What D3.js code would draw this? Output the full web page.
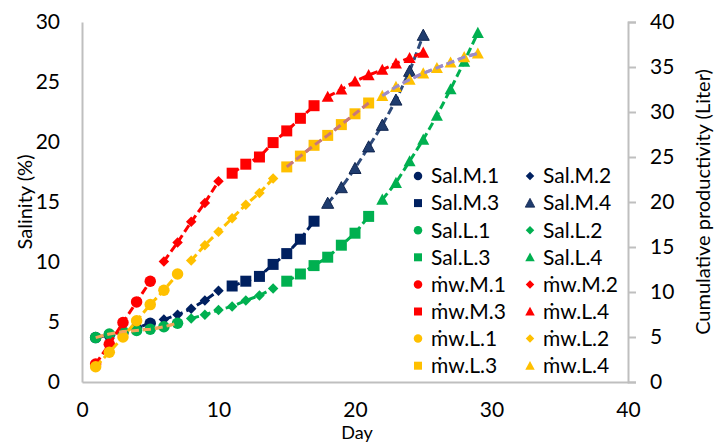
<!DOCTYPE html>
<html><head><meta charset="utf-8">
<script src="https://cdn.jsdelivr.net/npm/d3@7"></script>
<style>
body{margin:0;background:#fff;}
svg text{font-family:Lato,"Noto Sans",sans-serif;fill:#000;}
</style></head>
<body><svg id="c" width="714" height="443"></svg>
<script>
// ---- data ----
const daysM1 = [1,2,3,4,5];
const daysM2 = [6,7,8,9,10];
const daysM3 = [11,12,13,14,15,16,17];
const daysM4 = [18,19,20,21,22,23,24,25];
const daysL1 = [1,2,3,4,5,6,7];
const daysL2 = [8,9,10,11,12,13,14];
const daysL3 = [15,16,17,18,19,20,21];
const daysL4 = [22,23,24,25,26,27,28,29];

const salM1 = [3.7, 3.9, 4.1, 4.5, 4.9];
const salM2 = [5.2, 5.6, 6.1, 6.8, 7.6];
const salM3 = [8.0, 8.4, 8.8, 9.8, 10.7, 11.9, 13.4];
const salM4 = [14.9, 16.2, 17.8, 19.6, 21.4, 23.5, 25.9, 28.9];
const salL1 = [3.7, 4.0, 4.2, 4.3, 4.4, 4.6, 4.9];
const salL2 = [5.3, 5.6, 6.0, 6.3, 6.8, 7.2, 7.8];
const salL3 = [8.4, 9.0, 9.7, 10.4, 11.4, 12.4, 13.8];
const salL4 = [15.2, 16.6, 18.4, 20.2, 22.2, 24.4, 26.7, 29.1];

const mwM1 = [2.0, 4.2, 6.6, 8.9, 11.2];
const mwM2 = [13.4, 15.5, 17.8, 19.9, 22.3];
const mwM3 = [23.2, 24.2, 25.0, 26.6, 27.9, 29.3, 30.7];
const mwM4 = [31.7, 32.5, 33.4, 34.1, 34.7, 35.4, 36.0, 36.6];
const mwL1 = [1.7, 3.3, 5.0, 6.8, 8.6, 10.2, 12.0];
const mwL2 = [13.5, 15.2, 16.7, 18.2, 19.7, 21.0, 22.6];
const mwL3 = [23.9, 25.1, 26.3, 27.4, 28.6, 29.8, 31.0];
const mwL4 = [31.8, 32.8, 33.6, 34.3, 34.9, 35.5, 36.1, 36.5];

const xTicks = [0, 10, 20, 30, 40];
const yLeftTicks = [0, 5, 10, 15, 20, 25, 30];
const yRightTicks = [0, 5, 10, 15, 20, 25, 30, 35, 40];

const seriesNames = ["Sal.M.1","Sal.M.2","Sal.M.3","Sal.M.4","Sal.L.1","Sal.L.2","Sal.L.3","Sal.L.4",
  "ṁw.M.1","ṁw.M.2","ṁw.M.3","ṁw.L.4","ṁw.L.1","ṁw.L.2","ṁw.L.3","ṁw.L.4"];

// ---- styles ----
const NAVY="#002060", NAVY4="#1F3C6E", GREEN="#00B050", RED="#FF0000", YEL="#FFC000";
const series = [
  {name:seriesNames[0], days:daysM1, vals:salM1, axis:"L", shape:"circle", fill:NAVY, line:NAVY},
  {name:seriesNames[1], days:daysM2, vals:salM2, axis:"L", shape:"diamond", fill:NAVY, line:NAVY},
  {name:seriesNames[2], days:daysM3, vals:salM3, axis:"L", shape:"square", fill:NAVY, line:NAVY},
  {name:seriesNames[3], days:daysM4, vals:salM4, axis:"L", shape:"triangle", fill:NAVY4, line:"#2E4A7A", stroke:"#10254F"},
  {name:seriesNames[4], days:daysL1, vals:salL1, axis:"L", shape:"circle", fill:GREEN, line:"#F4A55A"},
  {name:seriesNames[5], days:daysL2, vals:salL2, axis:"L", shape:"diamond", fill:GREEN, line:GREEN},
  {name:seriesNames[6], days:daysL3, vals:salL3, axis:"L", shape:"square", fill:GREEN, line:GREEN},
  {name:seriesNames[7], days:daysL4, vals:salL4, axis:"L", shape:"triangle", fill:GREEN, line:GREEN},
  {name:seriesNames[8], days:daysM1, vals:mwM1, axis:"R", shape:"circle", fill:RED, line:RED},
  {name:seriesNames[9], days:daysM2, vals:mwM2, axis:"R", shape:"diamond", fill:RED, line:RED},
  {name:seriesNames[10], days:daysM3, vals:mwM3, axis:"R", shape:"square", fill:RED, line:RED},
  {name:seriesNames[11], days:daysM4, vals:mwM4, axis:"R", shape:"triangle", fill:RED, line:RED},
  {name:seriesNames[12], days:daysL1, vals:mwL1, axis:"R", shape:"circle", fill:YEL, line:YEL},
  {name:seriesNames[13], days:daysL2, vals:mwL2, axis:"R", shape:"diamond", fill:YEL, line:YEL},
  {name:seriesNames[14], days:daysL3, vals:mwL3, axis:"R", shape:"square", fill:YEL, line:"#C8787A"},
  {name:seriesNames[15], days:daysL4, vals:mwL4, axis:"R", shape:"triangle", fill:YEL, line:"#9C8CC8"}
];

// ---- layout ----
const svg = d3.select("#c");
const X0=82, X1=628, Ytop=22, Ybot=382;
const x = d3.scaleLinear().domain([0,40]).range([X0,X1]);
const yL = d3.scaleLinear().domain([0,30]).range([Ybot,Ytop]);
const yR = d3.scaleLinear().domain([0,40]).range([Ybot,Ytop]);
const AX="#BFBFBF";

// axes
const gx = svg.append("g").attr("transform",`translate(0,${Ybot})`)
  .call(d3.axisBottom(x).tickValues(xTicks).tickSize(0).tickPadding(20));
const gl = svg.append("g").attr("transform",`translate(${X0},0)`)
  .call(d3.axisLeft(yL).tickValues(yLeftTicks).tickSize(0).tickPadding(22));
const gr = svg.append("g").attr("transform",`translate(${X1},0)`)
  .call(d3.axisRight(yR).tickValues(yRightTicks).tickSize(8).tickPadding(14));
[gx,gl,gr].forEach(g=>{
  g.select(".domain").attr("stroke",AX).attr("stroke-width",2);
  g.selectAll(".tick line").attr("stroke",AX).attr("stroke-width",2);
  g.selectAll(".tick text").attr("font-size",21).attr("fill","#000")
    .style("font-family",'Lato,"Noto Sans",sans-serif');
});

// axis titles
svg.append("text").attr("x",357).attr("y",439).attr("text-anchor","middle").attr("font-size",18).text("Day");
svg.append("text").attr("transform","translate(32,202) rotate(-90)").attr("text-anchor","middle").attr("font-size",20).text("Salinity (%)");
svg.append("text").attr("transform","translate(710,202) rotate(-90)").attr("text-anchor","middle").attr("font-size",20).text("Cumulative productivity (Liter)");

// marker paths
function markerPath(shape, s){
  const h=s/2;
  if(shape==="circle") return `M${-h},0A${h},${h} 0 1,0 ${h},0A${h},${h} 0 1,0 ${-h},0Z`;
  if(shape==="square") return `M${-h},${-h}H${h}V${h}H${-h}Z`;
  if(shape==="diamond") return `M0,${-h}L${h},0L0,${h}L${-h},0Z`;
  if(shape==="triangle") return `M0,${-h}L${h},${h*0.85}L${-h},${h*0.85}Z`;
}
const sizeOf = {circle:11.5, square:11, diamond:10.5, triangle:12};

const plot = svg.append("g");
series.forEach(s=>{
  const yS = s.axis==="L"? yL : yR;
  const pts = s.days.map((d,i)=>[x(d), yS(s.vals[i])]);
  const g = plot.append("g");
  g.append("path").attr("d", d3.line()(pts)).attr("fill","none")
    .attr("stroke", s.line).attr("stroke-width",3).attr("stroke-dasharray","8,4");
  g.selectAll("path.m").data(pts).enter().append("path").attr("class","m")
    .attr("transform",p=>`translate(${p[0]},${p[1]})`)
    .attr("d", markerPath(s.shape, sizeOf[s.shape]))
    .attr("fill", s.fill).attr("stroke", s.stroke||"none").attr("stroke-width",1);
});
// redraw special-colored lines on top (trend-style)
series.filter(s=>s.line!==s.fill && !s.stroke).forEach(s=>{
  const yS = s.axis==="L"? yL : yR;
  const pts = s.days.map((d,i)=>[x(d), yS(s.vals[i])]);
  plot.append("path").attr("d", d3.line()(pts)).attr("fill","none")
    .attr("stroke", s.line).attr("stroke-width",3).attr("stroke-dasharray","8,4");
});

// legend
const leg = svg.append("g");
const legSize = {circle:8.5, square:8, diamond:8.5, triangle:9.5};
series.forEach((s,i)=>{
  const col=i%2, row=Math.floor(i/2);
  const mx = col===0? 418 : 530;
  const ty = 176 + row*27.1;
  leg.append("path").attr("transform",`translate(${mx},${ty})`)
    .attr("d", markerPath(s.shape, legSize[s.shape])).attr("fill", s.fill)
    .attr("stroke", s.stroke||"none").attr("stroke-width",0.8);
  leg.append("text").attr("x", mx+13).attr("y", ty).attr("dy","0.35em")
    .attr("font-size",21).text(s.name);
});
</script></body></html>
